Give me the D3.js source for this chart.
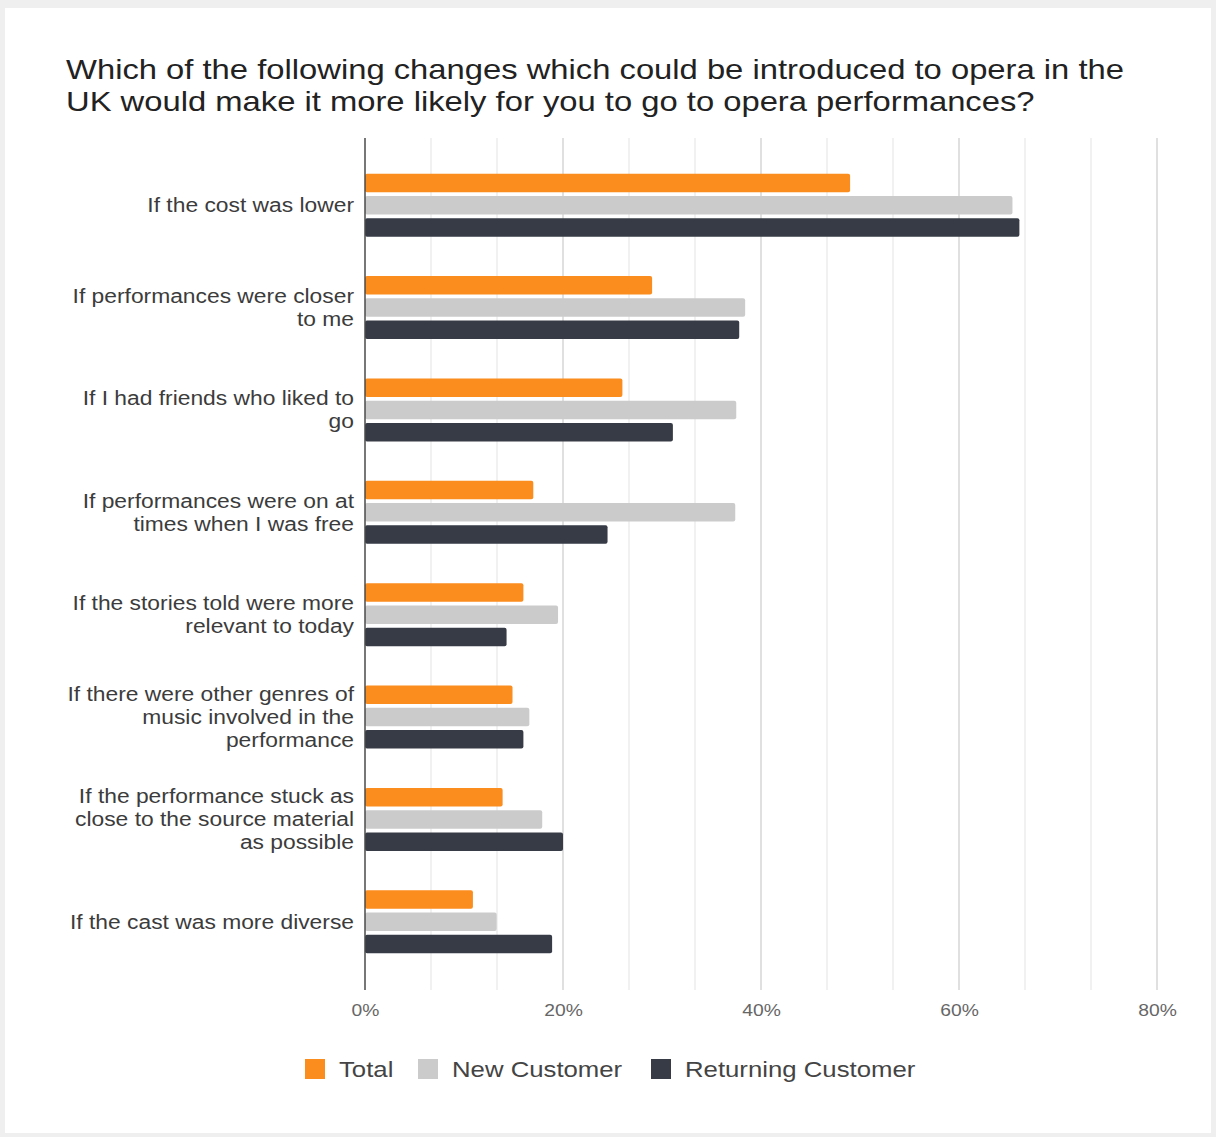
<!DOCTYPE html>
<html>
<head>
<meta charset="utf-8">
<script src="https://cdn.jsdelivr.net/npm/d3@7"></script>
<style>
  html, body { margin: 0; padding: 0; background: #efefef; }
  svg { display: block; font-family: "Liberation Sans", Arial, Helvetica, sans-serif; }
</style>
</head>
<body>
<svg id="chart" width="1216" height="1137"></svg>
<script>
// Survey answers: each category label is split into its wrapped lines
const categories = [
  "If the cost was lower",
  "If performances were closer|to me",
  "If I had friends who liked to|go",
  "If performances were on at|times when I was free",
  "If the stories told were more|relevant to today",
  "If there were other genres of|music involved in the|performance",
  "If the performance stuck as|close to the source material|as possible",
  "If the cast was more diverse"
];
const seriesNames = ["Total", "New Customer", "Returning Customer"];
const totalValues     = [49.0, 29.0, 26.0, 17.0, 16.0, 14.9, 13.9, 10.9];
const newValues       = [65.4, 38.4, 37.5, 37.4, 19.5, 16.6, 17.9, 13.3];
const returningValues = [66.1, 37.8, 31.1, 24.5, 14.3, 16.0, 20.0, 18.9];
const tickValues = [0, 20, 40, 60, 80];
const tickLabels = ["0%", "20%", "40%", "60%", "80%"];
const colors = ["#fb8c1e", "#cbcbcb", "#363b45"];

// the chart's type is set slightly wide
const stretch = 1.17;

const seriesValues = [totalValues, newValues, returningValues];
const rows = categories.map((c, i) => ({
  category: c,
  values: seriesNames.map((s, j) => ({ series: s, value: seriesValues[j][i], color: colors[j] }))
}));

const svg = d3.select("#chart");

// card
svg.append("rect").attr("x", 5).attr("y", 8).attr("width", 1206).attr("height", 1125)
  .attr("fill", "#ffffff");

// title
const title = svg.append("text").attr("fill", "#222")
  .attr("transform", `translate(66,0) scale(${stretch},1)`)
  .style("font-size", "28px");
title.append("tspan").attr("x", 0).attr("y", 79)
  .text("Which of the following changes which could be introduced to opera in the");
title.append("tspan").attr("x", 0).attr("y", 111)
  .text("UK would make it more likely for you to go to opera performances?");

const x = d3.scaleLinear().domain([0, 80]).range([365, 1157]);
const y = d3.scaleBand().domain(categories).range([154, 973])
  .paddingInner(0.31).paddingOuter(0.155);
const ySeries = d3.scaleBand().domain(seriesNames).range([0, y.bandwidth()]).padding(0.17);

const plotTop = 138, plotBottom = 990;

// gridlines: minor every 20/3 %, majors at labelled ticks
const gridVals = d3.range(1, 13).map(k => k * 80 / 12);
svg.append("g").selectAll("line").data(gridVals).join("line")
  .attr("x1", d => x(d)).attr("x2", d => x(d))
  .attr("y1", plotTop).attr("y2", plotBottom)
  .attr("stroke", d => tickValues.some(t => Math.abs(t - d) < 1e-6) ? "#d6d6d6" : "#ececec")
  .attr("stroke-width", 1.5);

// bars
const groups = svg.append("g").selectAll("g").data(rows).join("g")
  .attr("transform", d => `translate(0,${y(d.category)})`);
groups.selectAll("rect").data(d => d.values).join("rect")
  .attr("x", x(0))
  .attr("y", d => ySeries(d.series))
  .attr("width", d => x(d.value) - x(0))
  .attr("height", ySeries.bandwidth())
  .attr("rx", 2)
  .attr("fill", d => d.color);

// vertical axis line
svg.append("line").attr("x1", x(0)).attr("x2", x(0))
  .attr("y1", plotTop).attr("y2", plotBottom)
  .attr("stroke", "#4a4a4a").attr("stroke-width", 1.5);

// x-axis tick labels
const xAxis = d3.axisBottom(x).tickValues(tickValues)
  .tickFormat((d, i) => tickLabels[i]).tickSize(0).tickPadding(0);
const gx = svg.append("g").attr("transform", `translate(0,1004)`).call(xAxis);
gx.select(".domain").remove();
gx.selectAll("text").attr("fill", "#666").style("font-size", "16.5px")
  .attr("transform", `scale(${stretch},1)`)
  .style("font-family", "'Liberation Sans', Arial, Helvetica, sans-serif");

// category labels, right-aligned and centred on their group
const lineH = 23;
const labels = svg.append("g").attr("transform", `translate(354,0) scale(${stretch},1)`)
  .selectAll("text").data(rows).join("text")
  .attr("text-anchor", "end").attr("fill", "#3c3c3c")
  .style("font-size", "19.5px");
labels.each(function(d) {
  const lines = d.category.split("|");
  const cy = y(d.category) + y.bandwidth() / 2;
  const first = cy - (lines.length - 1) * lineH / 2;
  d3.select(this).selectAll("tspan").data(lines).join("tspan")
    .attr("x", 0).attr("y", (l, i) => first + i * lineH).attr("dy", "0.35em")
    .text(l => l);
});

// legend
const legendItems = [
  { name: seriesNames[0], color: colors[0], sx: 305 },
  { name: seriesNames[1], color: colors[1], sx: 418 },
  { name: seriesNames[2], color: colors[2], sx: 651 }
];
const lg = svg.append("g").selectAll("g").data(legendItems).join("g")
  .attr("transform", d => `translate(${d.sx},1059)`);
lg.append("rect").attr("width", 20).attr("height", 20).attr("fill", d => d.color);
lg.append("text").attr("transform", `translate(34,10) scale(${stretch},1)`)
  .attr("dy", "0.35em")
  .attr("fill", "#444").style("font-size", "22px")
  .text(d => d.name);
</script>
</body>
</html>
